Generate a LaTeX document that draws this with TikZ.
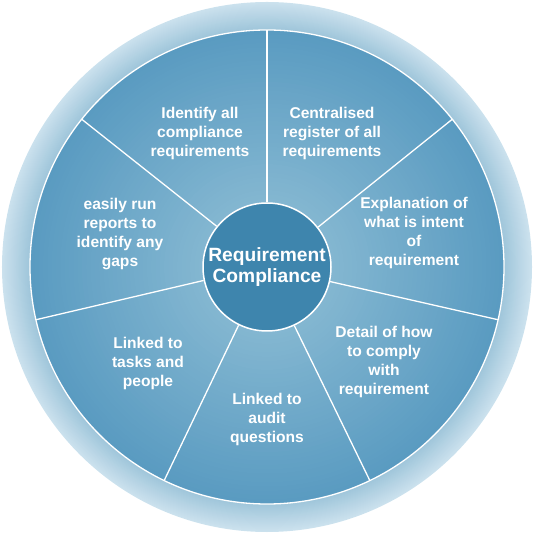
\documentclass[tikz,border=0pt]{standalone}
\usepackage{fontspec}
\setmainfont{Liberation Sans}
\definecolor{ringout}{HTML}{CCE2EE}
\definecolor{ringin}{HTML}{9EC5DA}
\definecolor{segout}{HTML}{5A9BC1}
\definecolor{segin}{HTML}{84B7D1}
\definecolor{hubcol}{HTML}{3E85AD}
\begin{document}
\begin{tikzpicture}[x=1pt,y=1pt,
  lbl/.style={text=white,font=\bfseries\fontsize{15.6}{19}\selectfont,align=center,inner sep=0pt},
  divider/.style={draw=white,line width=1.3pt},
  hubstyle/.style={circle,fill=hubcol,draw=white,line width=1.5pt,minimum size=128pt,inner sep=0pt,
    text=white,font=\bfseries\fontsize{19.2}{21}\selectfont,align=center}]
\useasboundingbox (-267,-267) rectangle (267,267);
% outer ring gradient
\foreach \i in {0,...,30}{
  \pgfmathsetmacro\r{265-\i*28/30}
  \pgfmathsetmacro\p{100-\i*100/30}
  \fill[ringout!\p!ringin] (0,0) circle (\r);
}
% segment disc gradient
\foreach \i in {0,...,40}{
  \pgfmathsetmacro\r{237-\i*173/40}
  \pgfmathsetmacro\p{100-\i*100/40}
  \fill[segout!\p!segin] (0,0) circle (\r);
}
\draw[divider] (0,0) circle (237);
\node[hubstyle] (hub) at (0,0) {Requirement\\Compliance};
\foreach \k in {0,...,6}{
  \pgfmathsetmacro\a{90+\k*360/7}
  \coordinate (e\k) at (\a:237);
  \draw[divider] (hub.\a) -- (e\k);
}
\node[lbl] (t1) at (-67,134) {Identify all\\compliance\\requirements};
\node[lbl] (t2) at (65,134) {Centralised\\register of all\\requirements};
\node[lbl] (t3) at (147,34) {Explanation of\\what is intent\\of\\requirement};
\node[lbl] (t4) at (117,-95) {Detail of how\\to comply\\with\\requirement};
\node[lbl] (t5) at (0,-152) {Linked to\\audit\\questions};
\node[lbl] (t6) at (-119,-96) {Linked to\\tasks and\\people};
\node[lbl] (t7) at (-147,33) {easily run\\reports to\\identify any\\gaps};
\end{tikzpicture}
\end{document}
